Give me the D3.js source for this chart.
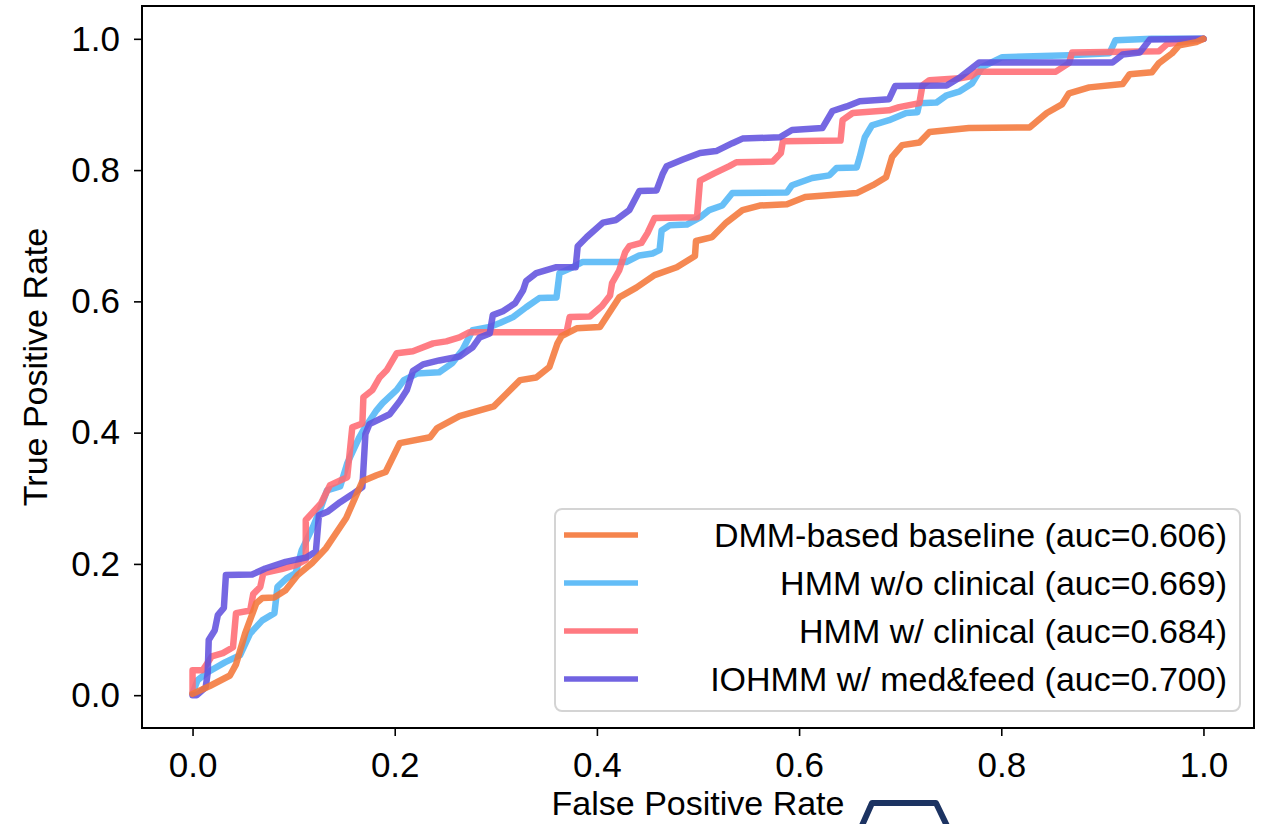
<!DOCTYPE html>
<html>
<head>
<meta charset="utf-8">
<script src="https://cdn.jsdelivr.net/npm/d3@7"></script>
<style>
  body { margin: 0; background: #fff; }
  svg text { font-family: "Liberation Sans", Arial, sans-serif; fill: #000; }
  .axis .domain { display: none; }
  .axis line { stroke: #000; stroke-width: 1.6; }
</style>
</head>
<body>
<svg id="chart"></svg>
<script>
// ROC points [fpr, tpr]
const dmmRoc = [[0.000,0.002],[0.017,0.014],[0.037,0.030],[0.043,0.047],[0.052,0.094],[0.063,0.140],[0.069,0.148],[0.081,0.149],[0.092,0.160],[0.104,0.183],[0.118,0.201],[0.132,0.224],[0.152,0.270],[0.168,0.326],[0.182,0.335],[0.191,0.340],[0.205,0.384],[0.235,0.393],[0.242,0.407],[0.264,0.425],[0.298,0.440],[0.311,0.460],[0.324,0.480],[0.340,0.484],[0.353,0.500],[0.361,0.536],[0.365,0.547],[0.380,0.559],[0.403,0.561],[0.422,0.606],[0.439,0.621],[0.457,0.640],[0.479,0.652],[0.497,0.669],[0.498,0.692],[0.514,0.698],[0.528,0.720],[0.544,0.739],[0.561,0.746],[0.588,0.748],[0.606,0.759],[0.657,0.765],[0.673,0.777],[0.686,0.789],[0.692,0.820],[0.702,0.838],[0.719,0.842],[0.729,0.858],[0.768,0.864],[0.828,0.865],[0.845,0.887],[0.860,0.900],[0.867,0.917],[0.887,0.926],[0.920,0.931],[0.927,0.946],[0.949,0.949],[0.956,0.963],[0.969,0.978],[0.976,0.990],[0.993,0.995],[1.000,1.000]];

const hmmNoClinRoc = [[0.000,0.003],[0.003,0.015],[0.005,0.023],[0.015,0.035],[0.032,0.050],[0.047,0.061],[0.057,0.094],[0.069,0.114],[0.081,0.125],[0.084,0.165],[0.093,0.178],[0.102,0.186],[0.108,0.221],[0.119,0.256],[0.126,0.282],[0.133,0.312],[0.146,0.318],[0.153,0.353],[0.165,0.393],[0.169,0.404],[0.182,0.434],[0.188,0.445],[0.202,0.465],[0.209,0.480],[0.222,0.490],[0.244,0.492],[0.257,0.506],[0.267,0.526],[0.277,0.556],[0.294,0.561],[0.304,0.567],[0.317,0.576],[0.330,0.591],[0.343,0.605],[0.360,0.606],[0.363,0.643],[0.376,0.652],[0.386,0.660],[0.429,0.660],[0.442,0.670],[0.455,0.673],[0.462,0.678],[0.464,0.708],[0.472,0.716],[0.489,0.717],[0.502,0.728],[0.511,0.739],[0.524,0.746],[0.534,0.765],[0.588,0.766],[0.593,0.777],[0.613,0.788],[0.630,0.792],[0.637,0.803],[0.657,0.804],[0.660,0.820],[0.665,0.850],[0.672,0.868],[0.689,0.876],[0.706,0.887],[0.717,0.888],[0.719,0.902],[0.736,0.903],[0.746,0.914],[0.759,0.920],[0.771,0.932],[0.781,0.957],[0.801,0.972],[0.867,0.975],[0.907,0.978],[0.913,0.998],[0.949,1.000],[1.000,1.000]];

const hmmClinRoc = [[0.000,0.002],[0.000,0.038],[0.010,0.038],[0.019,0.059],[0.030,0.064],[0.040,0.073],[0.043,0.125],[0.057,0.129],[0.060,0.154],[0.067,0.165],[0.070,0.186],[0.088,0.192],[0.102,0.198],[0.112,0.206],[0.112,0.267],[0.127,0.292],[0.136,0.320],[0.153,0.332],[0.158,0.408],[0.168,0.414],[0.169,0.454],[0.178,0.465],[0.185,0.484],[0.192,0.495],[0.202,0.521],[0.218,0.524],[0.238,0.536],[0.251,0.539],[0.264,0.545],[0.274,0.553],[0.370,0.553],[0.373,0.576],[0.393,0.577],[0.405,0.593],[0.413,0.609],[0.415,0.628],[0.422,0.647],[0.428,0.675],[0.432,0.684],[0.444,0.689],[0.450,0.704],[0.457,0.727],[0.499,0.728],[0.502,0.784],[0.516,0.795],[0.531,0.806],[0.538,0.812],[0.574,0.813],[0.582,0.826],[0.584,0.844],[0.641,0.845],[0.643,0.876],[0.653,0.887],[0.689,0.891],[0.699,0.896],[0.719,0.902],[0.722,0.929],[0.729,0.937],[0.759,0.940],[0.770,0.943],[0.776,0.950],[0.854,0.950],[0.867,0.963],[0.870,0.979],[0.956,0.981],[0.964,0.992],[0.996,0.998],[1.000,1.000]];

const iohmmRoc = [[0.000,0.000],[0.004,0.000],[0.013,0.012],[0.015,0.034],[0.016,0.084],[0.022,0.099],[0.025,0.122],[0.031,0.133],[0.033,0.183],[0.059,0.184],[0.072,0.193],[0.092,0.203],[0.113,0.210],[0.122,0.219],[0.125,0.274],[0.134,0.280],[0.146,0.294],[0.158,0.306],[0.168,0.317],[0.171,0.398],[0.175,0.413],[0.195,0.428],[0.205,0.448],[0.212,0.465],[0.218,0.494],[0.228,0.504],[0.244,0.510],[0.264,0.516],[0.277,0.530],[0.284,0.545],[0.294,0.551],[0.297,0.579],[0.307,0.585],[0.319,0.597],[0.327,0.617],[0.330,0.631],[0.340,0.643],[0.360,0.652],[0.379,0.652],[0.381,0.684],[0.390,0.698],[0.406,0.720],[0.419,0.724],[0.432,0.739],[0.442,0.768],[0.459,0.769],[0.465,0.794],[0.469,0.806],[0.485,0.816],[0.502,0.826],[0.518,0.829],[0.534,0.841],[0.544,0.848],[0.581,0.850],[0.593,0.861],[0.623,0.864],[0.633,0.890],[0.647,0.897],[0.660,0.905],[0.689,0.908],[0.695,0.928],[0.746,0.929],[0.759,0.941],[0.778,0.964],[0.910,0.964],[0.920,0.976],[0.937,0.979],[0.947,0.999],[1.000,1.000]];

const seriesNames = ['DMM-based baseline', 'HMM w/o clinical', 'HMM w/ clinical', 'IOHMM w/ med&feed'];
const aucValues = [0.606, 0.669, 0.684, 0.700];
const tickValues = [0.0, 0.2, 0.4, 0.6, 0.8, 1.0];

class RocChart {

  constructor(_config, data) {
    this.config = {
      parentElement: _config.parentElement,
      containerWidth: 1263,
      containerHeight: 824,
      margin: {top: 6, right: 9, bottom: 96, left: 142},
      fontSize: 34,
      colors: ['#f4773a', '#52b6f6', '#ff6b73', '#6252de'],
      drawOrder: [1, 2, 3, 0]   // orange ends up on top in the figure
    }
    this.data = data;
    this.initVis();
  }

  initVis() {
    let vis = this;

    vis.svg = d3.select(vis.config.parentElement)
        .attr('width', vis.config.containerWidth)
        .attr('height', vis.config.containerHeight);

    vis.width = vis.config.containerWidth - vis.config.margin.left - vis.config.margin.right;
    vis.height = vis.config.containerHeight - vis.config.margin.top - vis.config.margin.bottom;

    vis.chart = vis.svg.append('g')
        .attr('transform', `translate(${vis.config.margin.left},${vis.config.margin.top})`);

    // matplotlib style 5% padding on both axes
    vis.xScale = d3.scaleLinear().domain([-0.05, 1.05]).range([0, vis.width]);
    vis.yScale = d3.scaleLinear().domain([-0.05, 1.05]).range([vis.height, 0]);

    vis.xAxis = d3.axisBottom(vis.xScale)
        .tickValues(tickValues)
        .tickFormat(d3.format('.1f'))
        .tickSize(8)
        .tickPadding(16);

    vis.yAxis = d3.axisLeft(vis.yScale)
        .tickValues(tickValues)
        .tickFormat(d3.format('.1f'))
        .tickSize(8)
        .tickPadding(14);

    vis.xAxisG = vis.chart.append('g')
        .attr('class', 'axis x-axis')
        .attr('transform', `translate(0,${vis.height})`);
    vis.yAxisG = vis.chart.append('g')
        .attr('class', 'axis y-axis');

    vis.line = d3.line()
        .x(d => vis.xScale(d[0]))
        .y(d => vis.yScale(d[1]));

    vis.renderVis();
  }

  renderVis() {
    let vis = this;
    const colors = vis.config.colors;
    const fs = vis.config.fontSize;

    vis.xAxisG.call(vis.xAxis);
    vis.yAxisG.call(vis.yAxis);
    vis.chart.selectAll('.axis text').attr('font-size', fs + 1);

    // curves
    vis.chart.selectAll('.roc')
        .data(vis.config.drawOrder)
        .join('path')
        .attr('class', 'roc')
        .attr('d', i => vis.line(vis.data[i]))
        .attr('fill', 'none')
        .attr('stroke', i => colors[i])
        .attr('stroke-width', 6.5)
        .attr('stroke-opacity', 0.88)
        .attr('stroke-linejoin', 'round')
        .attr('stroke-linecap', 'round');

    // frame
    vis.chart.append('rect')
        .attr('width', vis.width)
        .attr('height', vis.height)
        .attr('fill', 'none')
        .attr('stroke', '#000')
        .attr('stroke-width', 2);

    // axis titles
    vis.svg.append('text')
        .attr('x', vis.config.margin.left + vis.width / 2)
        .attr('y', 815)
        .attr('text-anchor', 'middle')
        .attr('font-size', fs)
        .text('False Positive Rate');
    vis.svg.append('text')
        .attr('transform', `translate(47,${vis.config.margin.top + vis.height / 2}) rotate(-90)`)
        .attr('text-anchor', 'middle')
        .attr('font-size', fs)
        .text('True Positive Rate');

    // legend
    const legend = vis.chart.append('g')
        .attr('transform', `translate(${vis.width - 699},${vis.height - 219})`);
    legend.append('rect')
        .attr('width', 685)
        .attr('height', 202)
        .attr('rx', 7)
        .attr('fill', '#fff')
        .attr('fill-opacity', 0.8)
        .attr('stroke', '#d4d4d4')
        .attr('stroke-width', 2);

    const rowY = d3.scalePoint().domain(d3.range(seriesNames.length)).range([26, 170]);
    const rows = legend.selectAll('.legend-row')
        .data(seriesNames)
        .join('g')
        .attr('class', 'legend-row')
        .attr('transform', (d, i) => `translate(0,${rowY(i)})`);
    rows.append('line')
        .attr('x1', 9).attr('x2', 83)
        .attr('stroke', (d, i) => colors[i])
        .attr('stroke-width', 5.5)
        .attr('stroke-opacity', 0.9);
    rows.append('text')
        .attr('x', 672)
        .attr('dy', '0.36em')
        .attr('text-anchor', 'end')
        .attr('font-size', fs)
        .text((d, i) => `${d} (auc=${d3.format('.3f')(aucValues[i])})`);

    // partial badge outline poking in at the bottom edge of the figure
    vis.svg.append('path')
        .attr('d', d3.line()([[860, 830], [872, 803], [936, 803], [949, 830]]))
        .attr('fill', 'none')
        .attr('stroke', '#1c3362')
        .attr('stroke-width', 6)
        .attr('stroke-linejoin', 'round');
  }
}

new RocChart({parentElement: '#chart'}, [dmmRoc, hmmNoClinRoc, hmmClinRoc, iohmmRoc]);
</script>
</body>
</html>
